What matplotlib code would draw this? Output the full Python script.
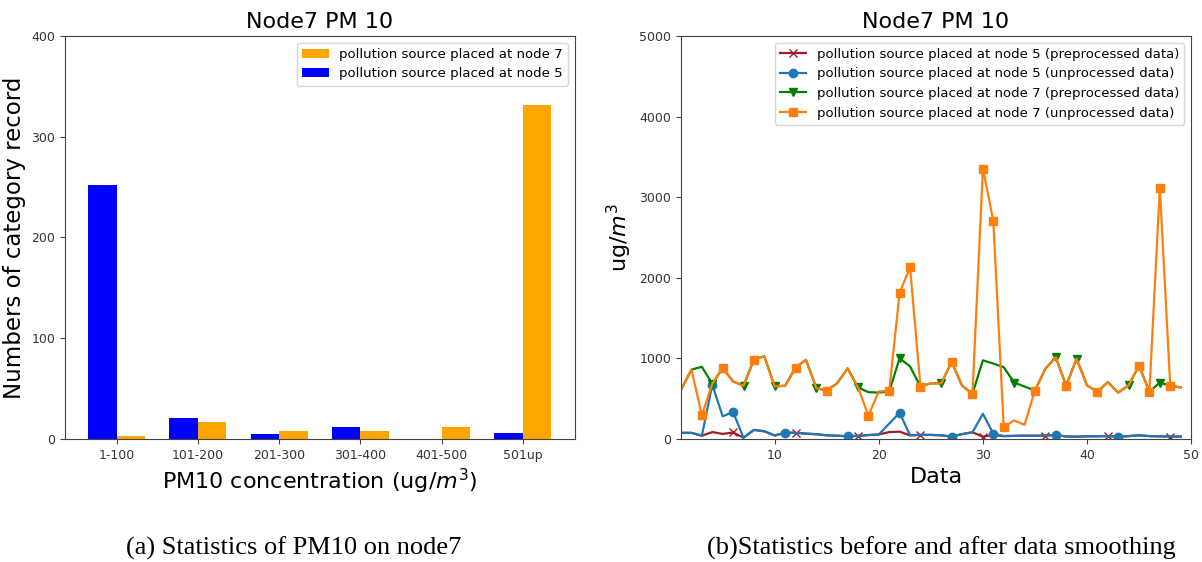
import numpy as np
import matplotlib
matplotlib.use("Agg")
import matplotlib.pyplot as plt

# --- (a) bar chart data ---
categories = ["1-100", "101-200", "201-300", "301-400", "401-500", "501up"]
node7_counts = [3, 17, 8, 8, 12, 331]
node5_counts = [252, 21, 5, 12, 0, 6]

# --- (b) line chart data (x = 1..49) ---
data_idx = list(range(1, 50))
node7_raw = [610, 860, 295, 683, 880, 713, 660, 985, 1025, 651,
             660, 886, 981, 630, 600, 692, 875, 640, 290, 590,
             595, 1814, 2130, 650, 690, 690, 955, 660, 560, 3355,
             2705, 145, 230, 175, 600, 870, 1015, 660, 995, 665,
             585, 705, 575, 665, 910, 585, 3115, 660, 640]
node7_pre = [610, 860, 895, 683, 880, 713, 660, 985, 1025, 651,
             660, 886, 981, 630, 600, 692, 875, 640, 580, 575,
             590, 1000, 900, 650, 690, 690, 955, 660, 560, 975,
             935, 890, 700, 650, 600, 870, 1015, 660, 995, 665,
             585, 705, 575, 665, 910, 585, 700, 660, 640]
node5_raw = [75, 75, 40, 672, 280, 335, 15, 112, 95, 42,
             78, 75, 66, 58, 45, 40, 33, 38, 48, 55,
             190, 325, 45, 50, 50, 45, 28, 60, 82, 313,
             65, 35, 38, 40, 40, 42, 48, 30, 28, 32,
             33, 35, 28, 35, 45, 35, 32, 30, 28]
node5_pre = [75, 75, 40, 85, 62, 80, 15, 112, 95, 42,
             78, 75, 66, 58, 45, 40, 33, 38, 48, 55,
             85, 90, 45, 50, 50, 45, 28, 60, 82, 28,
             50, 35, 38, 40, 40, 42, 48, 30, 28, 32,
             33, 35, 28, 35, 45, 35, 32, 30, 28]

# x positions where the markers are drawn
node5_pre_marks = [6, 12, 18, 24, 30, 36, 42, 48]
node5_raw_marks = [4, 6, 11, 17, 22, 27, 31, 37, 43]
node7_pre_marks = [4, 7, 10, 14, 18, 22, 26, 33, 37, 39, 44, 47]
node7_raw_marks = [3, 5, 8, 12, 15, 19, 21, 22, 23, 24, 27, 29, 30, 31,
                   32, 35, 38, 41, 45, 46, 47, 48]

plt.rcParams["font.family"] = "DejaVu Sans"
plt.rcParams["axes.edgecolor"] = "#444444"
plt.rcParams["xtick.color"] = "#444444"
plt.rcParams["ytick.color"] = "#444444"
plt.rcParams["xtick.labelcolor"] = "#333333"
plt.rcParams["ytick.labelcolor"] = "#333333"

fig = plt.figure(figsize=(12.02, 5.62), dpi=100)
ax1 = fig.add_axes([0.054, 0.219, 0.424, 0.717])
ax2 = fig.add_axes([0.5666, 0.219, 0.4243, 0.717])

# (a)
w = 0.35
pos = np.arange(len(categories))
ax1.bar(pos + w / 2, node7_counts, w, color="orange",
        label="pollution source placed at node 7")
ax1.bar(pos - w / 2, node5_counts, w, color="blue",
        label="pollution source placed at node 5")
ax1.set_xticks(pos)
ax1.set_xticklabels(categories, fontsize=9)
ax1.set_ylim(0, 400)
ax1.set_yticks([0, 100, 200, 300, 400])
ax1.tick_params(axis="y", labelsize=9)
ax1.set_title("Node7 PM 10", fontsize=16)
ax1.set_xlabel(r"PM10 concentration (ug/$m^3$)", fontsize=16)
ax1.set_ylabel("Numbers of category record", fontsize=16.5)
ax1.legend(loc="upper right", fontsize=9.5)

# (b)
def marks(xs):
    return [x - 1 for x in xs]

ax2.plot(data_idx, node5_pre, color="#a01c28", marker="x", ms=6, lw=1.6,
         markevery=marks(node5_pre_marks),
         label="pollution source placed at node 5 (preprocessed data)")
ax2.plot(data_idx, node5_raw, color="#1f77b4", marker="o", ms=6, lw=1.6,
         markevery=marks(node5_raw_marks),
         label="pollution source placed at node 5 (unprocessed data)")
ax2.plot(data_idx, node7_pre, color="green", marker="v", ms=6, lw=1.6,
         markevery=marks(node7_pre_marks),
         label="pollution source placed at node 7 (preprocessed data)")
ax2.plot(data_idx, node7_raw, color="#ff7f0e", marker="s", ms=6, lw=1.6,
         markevery=marks(node7_raw_marks),
         label="pollution source placed at node 7 (unprocessed data)")
ax2.set_xlim(1, 50)
ax2.set_ylim(0, 5000)
ax2.set_xticks([10, 20, 30, 40, 50])
ax2.tick_params(labelsize=9)
ax2.set_title("Node7 PM 10", fontsize=16)
ax2.set_xlabel("Data", fontsize=16)
ax2.set_ylabel(r"ug/$m^3$", fontsize=16)
ax2.legend(loc="upper right", fontsize=9.5)

cap = dict(family="Liberation Serif", fontsize=19, ha="center", va="center")
fig.text(294 / 1202, 1 - 548 / 562, "(a) Statistics of PM10 on node7", **cap)
fig.text(941 / 1202, 1 - 548 / 562,
         "(b)Statistics before and after data smoothing", **cap)

fig.savefig("out.png", dpi=100)
